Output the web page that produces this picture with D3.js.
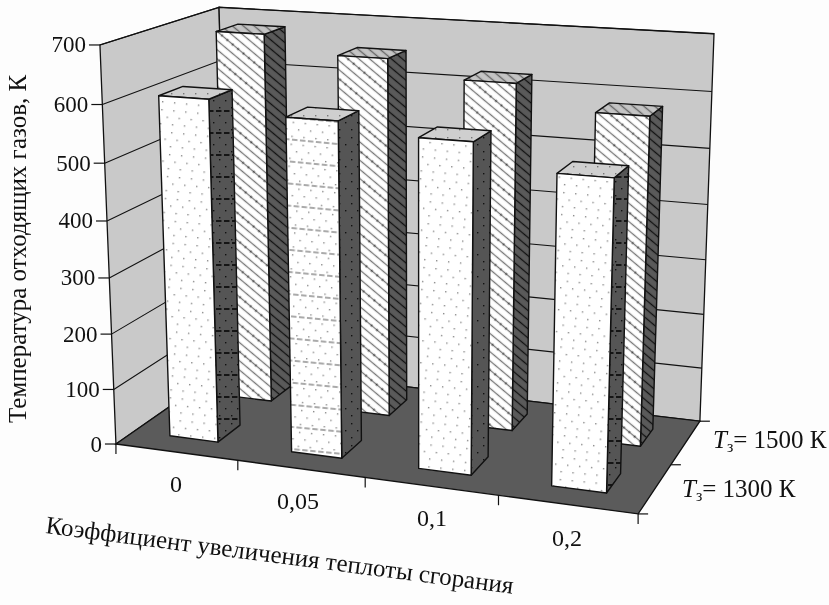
<!DOCTYPE html>
<html><head><meta charset="utf-8">
<script src="https://cdnjs.cloudflare.com/ajax/libs/d3/7.8.5/d3.min.js"></script>
<style>html,body{margin:0;background:#fdfdfd}svg{display:block;filter:blur(0.4px)}text{font-family:"Liberation Serif",serif;fill:#111}</style>
</head><body><svg id="c" width="829" height="605"></svg>
<script>
const categories = ["0","0,05","0,1","0,2"];
const seriesNames = ["1500 К","1300 К"];
const values1300 = [607,586,568,527];
const values1500 = [682,652,623,582];
const yTicks = [0,100,200,300,400,500,600,700];
const yTitle = "Температура отходящих газов, К";
const xTitle = "Коэффициент увеличения теплоты сгорания";

const svg = d3.select("#c");
// camera calibration: (u, h, v) -> pixel
const calib = [
 [0,0,0,116,443],[1,0,0,638,515],[1,0,1,700,420],[0,0,1,228,367],
 [0,1,0,100,45],[0,1,1,219,7],[1,1,1,714,34]];
function solveCamera(pts){
  const A=[],b=[];
  pts.forEach(([X,Y,Z,x,y])=>{
    A.push([X,Y,Z,1,0,0,0,0,-x*X,-x*Y,-x*Z]);b.push(x);
    A.push([0,0,0,0,X,Y,Z,1,-y*X,-y*Y,-y*Z]);b.push(y);
  });
  const n=11,M=d3.range(n).map(i=>d3.range(n+1).map(j=>j<n?A.reduce((s,r)=>s+r[i]*r[j],0):A.reduce((s,r,k)=>s+r[i]*b[k],0)));
  for(let i=0;i<n;i++){
    let p=i;for(let k=i+1;k<n;k++)if(Math.abs(M[k][i])>Math.abs(M[p][i]))p=k;
    [M[i],M[p]]=[M[p],M[i]];
    for(let k=0;k<n;k++)if(k!==i&&M[i][i]!==0){const f=M[k][i]/M[i][i];for(let j=i;j<=n;j++)M[k][j]-=f*M[i][j];}
  }
  return M.map((r,i)=>r[n]/r[i]);
}
const P=solveCamera(calib);
function proj(u,h,v){
  const w=P[8]*u+P[9]*h+P[10]*v+1;
  return [(P[0]*u+P[1]*h+P[2]*v+P[3])/w,(P[4]*u+P[5]*h+P[6]*v+P[7])/w];
}
const uScale=d3.scaleBand().domain(categories).range([0,1]).paddingInner(0.6).paddingOuter(0.3);
const vScale=d3.scaleBand().domain(["1300 К","1500 К"]).range([0,1]).paddingInner(0.6).paddingOuter(0.3);
const hScale=d3.scaleLinear().domain([0,700]).range([0,1]);
const line=d3.line();
const poly=pts=>line(pts)+"Z";

// patterns
const defs=svg.append("defs");
function pat(id,w,h,bg,draw,rot){
  const p=defs.append("pattern").attr("id",id).attr("patternUnits","userSpaceOnUse").attr("width",w).attr("height",h).attr("patternTransform",rot?`rotate(${rot})`:null);
  p.append("rect").attr("width",w).attr("height",h).attr("fill",bg);
  draw(p);
}
function dots(p,c){[[3,5],[15,5],[9,12],[21,12],[3,19],[15,19]].forEach(d=>p.append("rect").attr("x",d[0]).attr("y",d[1]).attr("width",1.4).attr("height",1.4).attr("fill",c));}
function dashes(p,c,w){p.append("path").attr("d","M0,1H24").attr("stroke",c).attr("stroke-width",w).attr("stroke-dasharray","5.5 2.5").attr("fill","none");}
const rot=5.5;
pat("dotsW",24,22,"#fff",p=>dots(p,"#8a8a8a"),rot);
pat("dashW",24,22,"#fff",p=>{dots(p,"#8a8a8a");dashes(p,"#555",1.2);},rot);
pat("dotsD",24,22,"#555",p=>dots(p,"#111"),0);
pat("dashD",24,22,"#555",p=>{dots(p,"#111");dashes(p,"#000",1.4);},0);
pat("dotsT",24,22,"#cfcfcf",p=>dots(p,"#777"),0);
const hatch=(id,bg,c,w)=>pat(id,7,7,bg,p=>{p.append("path").attr("d","M0,3.5H7").attr("stroke",c).attr("stroke-width",w);},40);
pat("hatchW",7,21,"#fff",p=>{[3.5,10.5,17.5].forEach(y=>p.append("path").attr("d",`M0,${y}H7`).attr("stroke","#777").attr("stroke-width",1.3));p.append("rect").attr("x",3).attr("y",9.6).attr("width",1.8).attr("height",1.8).attr("fill","#444");},40);
hatch("hatchD","#5a5a5a","#111",1.3);
hatch("hatchT","#c4c4c4","#666",1.4);

// walls and floor
const S="#111";
svg.append("path").attr("d",poly([proj(0,0,0),proj(0,1,0),proj(0,1,1),proj(0,0,1)])).attr("fill","#c9c9c9").attr("stroke",S).attr("stroke-width",1.3);
svg.append("path").attr("d",poly([proj(0,0,1),proj(0,1,1),proj(1,1,1),proj(1,0,1)])).attr("fill","#c9c9c9").attr("stroke",S).attr("stroke-width",1.3);
svg.append("path").attr("d",poly([proj(0,0,0),proj(1,0,0),proj(1,0,1),proj(0,0,1)])).attr("fill","#5b5b5b").attr("stroke",S).attr("stroke-width",1.3);

// gridlines and axes
yTicks.forEach(t=>{
  const h=hScale(t);
  if(t>0) svg.append("path").attr("d",line([proj(0,h,0),proj(0,h,1),proj(1,h,1)])).attr("fill","none").attr("stroke",S).attr("stroke-width",1.1);
  const p=proj(0,h,0);
  svg.append("path").attr("d",line([[p[0]-11,p[1]],p])).attr("stroke",S).attr("stroke-width",1.2);
  svg.append("text").attr("x",p[0]-14).attr("y",p[1]+7.5).attr("text-anchor","end").attr("font-size",23).text(t);
});
const uTicks=[0].concat(categories.map(c=>(uScale(c)+uScale.bandwidth()+uScale.step()*0.3)));
uTicks.forEach(u=>{const p=proj(u,0,0);svg.append("path").attr("d",line([p,[p[0],p[1]+10]])).attr("stroke",S).attr("stroke-width",1.2);});
[0,0.5,1].forEach(v=>{const p=proj(1,0,v);svg.append("path").attr("d",line([p,[p[0]+10,p[1]]])).attr("stroke",S).attr("stroke-width",1.2);});

// bars
function bar(cat,series,val,fFront,fSide,fTop){
  const u0=uScale(cat),u1=u0+uScale.bandwidth(),v0=vScale(series),v1=v0+vScale.bandwidth(),h=hScale(val);
  const g=svg.append("g").attr("stroke",S).attr("stroke-width",1.4).attr("stroke-linejoin","round");
  g.append("path").attr("d",poly([proj(u1,0,v0),proj(u1,0,v1),proj(u1,h,v1),proj(u1,h,v0)])).attr("fill",`url(#${fSide})`);
  g.append("path").attr("d",poly([proj(u0,h,v0),proj(u1,h,v0),proj(u1,h,v1),proj(u0,h,v1)])).attr("fill",`url(#${fTop})`);
  g.append("path").attr("d",poly([proj(u0,0,v0),proj(u1,0,v0),proj(u1,h,v0),proj(u0,h,v0)])).attr("fill",`url(#${fFront})`);
}
categories.forEach((c,i)=>bar(c,"1500 К",values1500[i],"hatchW","hatchD","hatchT"));
const frontFills=["dotsW","dashW","dotsW","dotsW"],sideFills=["dashD","dotsD","dotsD","dashD"];
categories.forEach((c,i)=>bar(c,"1300 К",values1300[i],frontFills[i],sideFills[i],"dotsT"));

// labels
const catPos=[[176,492],[298,509],[432,526],[567,546]];
categories.forEach((c,i)=>svg.append("text").attr("x",catPos[i][0]).attr("y",catPos[i][1]).attr("text-anchor","middle").attr("font-size",24).text(c));
svg.append("text").attr("transform","translate(26,423) rotate(-90)").attr("font-size",25).text(yTitle);
svg.append("text").attr("transform","translate(45,533) rotate(7.4)").attr("font-size",25).text(xTitle);
function legend(x,y,s){
  const t=svg.append("text").attr("x",x).attr("y",y).attr("font-size",25);
  t.append("tspan").attr("font-style","italic").text("T");
  t.append("tspan").attr("font-size",16).attr("dy",4).text("з");
  t.append("tspan").attr("dy",-4).text("= "+s);
}
legend(713,448,seriesNames[0]);
legend(682,497,seriesNames[1]);
</script></body></html>
